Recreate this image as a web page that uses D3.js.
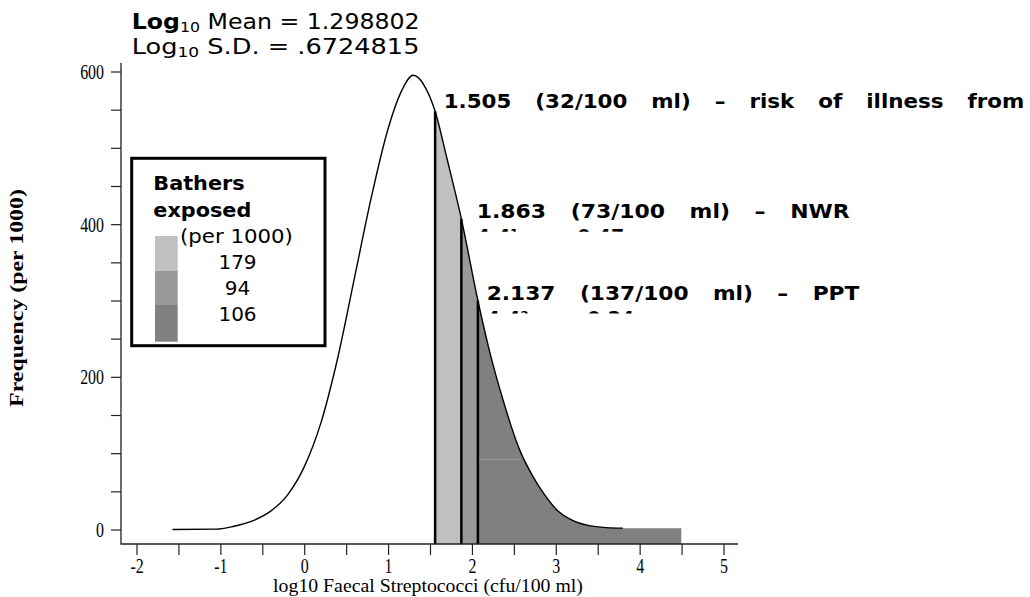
<!DOCTYPE html>
<html>
<head>
<meta charset="utf-8">
<script src="https://cdn.jsdelivr.net/npm/d3@7"></script>
<style>
  body { margin: 0; background: #fff; }
  svg { display: block; }
  .serif { font-family: "Liberation Serif", "Times New Roman", serif; }
  .sans { font-family: "DejaVu Sans", Verdana, sans-serif; }
</style>
</head>
<body>
<svg id="chart" width="1030" height="597"></svg>
<script>
// frequency curve (per 1000), by log10 count
const logValues = [-1.57, -1.05, -0.85, -0.6, -0.4, -0.2, 0, 0.2, 0.4, 0.6, 0.8, 1.0, 1.15, 1.3, 1.45,
  1.561, 1.7, 1.874, 2.071, 2.2, 2.37, 2.57, 2.73, 2.87, 3.01, 3.2, 3.4, 3.6, 3.8, 4.5];
const frequencies = [0, 0.5, 4, 12, 24, 45, 82, 140, 225, 330, 435, 525, 572, 595, 578,
  548, 487, 407, 300, 238, 170, 104, 69, 45, 26, 12, 5, 2.5, 1.8, 1.5];

// where the three vertical lines sit, and where the shaded tail stops
const cutValues = [1.561, 1.874, 2.071];
const tailEnd = 4.5;
const lineEnd = 3.8;

// faint seam inside the dark band
const seam = { from: 2.071, to: 2.585, freq: 92 };

const bandColors = ['#c0c0c0', '#999999', '#808080'];
const bandLabels = ['179', '94', '106'];

const annotations = [
  '1.505 (32/100 ml) – risk of illness from',
  '1.863 (73/100 ml) – NWR',
  '2.137 (137/100 ml) – PPT',
];
const annotationTails = [null, '4.4¹ = 0.47', '4.4² = 0.24'];

const xTicks = [-2, -1.5, -1, -0.5, 0, 0.5, 1, 1.5, 2, 2.5, 3, 3.5, 4, 4.5, 5];
const yTicks = [0, 50, 100, 150, 200, 250, 300, 350, 400, 450, 500, 550, 600];

const meanText = '1.298802';
const sdText = '.6724815';

// axis frame in data units
const X_FRAME = [-2.185, 5.173];
const Y_FRAME = [-19, 611];

const svg = d3.select('#chart');

const x = d3.scaleLinear().domain([-2, 5]).range([136.5, 723.5]);
const y = d3.scaleLinear().domain([0, 600]).range([529.5, 71.5]);

const points = logValues.map((v, i) => ({ v, f: frequencies[i] }));

// stretch a text horizontally so it spans the given width
function fit(sel, tx, ty, width, extra = '') {
  const w = sel.node().getComputedTextLength();
  sel.attr('transform', `translate(${tx},${ty}) ${extra} scale(${width / w},1)`);
}

// shaded tail, one clip per band
const defs = svg.append('defs');
const bandEdges = cutValues.concat([tailEnd]);
bandColors.forEach((c, i) => {
  defs.append('clipPath').attr('id', `band${i}`)
    .append('rect')
    .attr('x', x(bandEdges[i]))
    .attr('width', x(bandEdges[i + 1]) - x(bandEdges[i]))
    .attr('y', 0)
    .attr('height', 597);
});

const tail = points.filter(d => d.v >= cutValues[0]);
const area = d3.area()
  .x(d => x(d.v))
  .y0(y(Y_FRAME[0]))
  .y1(d => y(d.f))
  .curve(d3.curveMonotoneX);

bandColors.forEach((c, i) => {
  svg.append('path')
    .datum(tail)
    .attr('d', area)
    .attr('fill', c)
    .attr('clip-path', `url(#band${i})`);
});

svg.append('line')
  .attr('x1', x(seam.from)).attr('x2', x(seam.to))
  .attr('y1', y(seam.freq)).attr('y2', y(seam.freq))
  .attr('stroke', '#9a9a9a')
  .attr('stroke-width', 1);

// curve
const line = d3.line()
  .x(d => x(d.v))
  .y(d => y(d.f))
  .curve(d3.curveMonotoneX);

svg.append('path')
  .datum(points.filter(d => d.v <= lineEnd))
  .attr('d', line)
  .attr('fill', 'none')
  .attr('stroke', '#000')
  .attr('stroke-width', 1.4);

// vertical cut lines
svg.selectAll('.cut')
  .data(points.filter(d => cutValues.includes(d.v)))
  .enter()
.append('line')
  .attr('class', 'cut')
  .attr('x1', d => x(d.v))
  .attr('x2', d => x(d.v))
  .attr('y1', y(Y_FRAME[0]))
  .attr('y2', d => y(d.f))
  .attr('stroke', '#000')
  .attr('stroke-width', 2.5);

// axes
const xAxis = svg.append('g')
  .attr('transform', `translate(0,${y(Y_FRAME[0])})`)
  .call(d3.axisBottom(x)
    .tickValues(xTicks)
    .tickSize(11)
    .tickSizeOuter(0)
    .tickPadding(3)
    .tickFormat(d => (Number.isInteger(d) ? String(d) : '')));

const yAxis = svg.append('g')
  .attr('transform', `translate(${x(X_FRAME[0])},0)`)
  .call(d3.axisLeft(y)
    .tickValues(yTicks)
    .tickSize(10)
    .tickSizeOuter(0)
    .tickPadding(7)
    .tickFormat(d => (d % 200 === 0 ? String(d) : '')));

const squeeze = 0.74;
[xAxis, yAxis].forEach(g => {
  g.select('.domain').remove();
  g.selectAll('.tick line').attr('stroke', '#222').attr('stroke-width', 1.2);
  g.selectAll('.tick text')
    .attr('fill', '#000')
    .style('font-family', '"Liberation Serif", "Times New Roman", serif')
    .style('font-size', '21.5px');
});
// tall, narrow tick digits as in the picture
yAxis.selectAll('.tick text')
  .attr('x', -17 / squeeze)
  .attr('transform', `scale(${squeeze},1)`);
xAxis.selectAll('.tick text')
  .attr('transform', `scale(${squeeze},1)`);

svg.append('path')
  .attr('d', `M${x(X_FRAME[0])},${y(Y_FRAME[1])}V${y(Y_FRAME[0])}H${x(X_FRAME[1])}`)
  .attr('fill', 'none')
  .attr('stroke', '#222')
  .attr('stroke-width', 1.3);

// axis titles
const xTitle = svg.append('text')
  .attr('class', 'serif')
  .attr('text-anchor', 'middle')
  .style('font-size', '18px')
  .text('log10 Faecal Streptococci (cfu/100 ml)');
fit(xTitle, 428, 592, 310);

const yTitle = svg.append('text')
  .attr('class', 'serif')
  .attr('text-anchor', 'middle')
  .style('font-size', '18px')
  .style('font-weight', 'bold')
  .text('Frequency (per 1000)');
fit(yTitle, 23, 298, 218, 'rotate(-90)');

// mean / sd title
function titleLine(label, bold, value, ty) {
  const t = svg.append('text').attr('class', 'sans').style('font-size', '21px');
  t.append('tspan').style('font-weight', bold ? 'bold' : 'normal').text('Log');
  t.append('tspan').style('font-size', '14px').attr('dy', 3).text('10');
  t.append('tspan').attr('dy', -3).text(` ${label} = ${value}`);
  fit(t, 131.7, ty, 288);
}
titleLine('Mean', true, meanText, 29.3);
titleLine('S.D.', false, sdText, 54);

// annotations next to the cut lines
const annY = [108, 218.3, 300];
const annX = [443.7, 476.7, 486.7];
const annW = [581, 373, 373];
annotations.forEach((a, i) => {
  const t = svg.append('text')
    .attr('class', 'sans')
    .style('font-size', '19px')
    .style('font-weight', 'bold')
    .style('word-spacing', '14.7px')
    .text(a);
  fit(t, annX[i], annY[i], annW[i]);
  if (annotationTails[i]) {
    // the next line is cut off, only the tops of its glyphs remain
    defs.append('clipPath').attr('id', `tail${i}`)
      .append('rect')
      .attr('x', 0).attr('width', 1030)
      .attr('y', annY[i] + 9).attr('height', 4.5);
    const s = svg.append('text')
      .attr('class', 'sans')
      .attr('clip-path', `url(#tail${i})`)
      .style('font-size', '19px')
      .style('font-weight', 'bold')
      .style('word-spacing', '14.7px');
    s.append('tspan').attr('x', annX[i]).attr('y', annY[i] + 25).text(annotationTails[i]);
  }
});

// legend
const legend = svg.append('g');
legend.append('rect')
  .attr('x', 131.7).attr('y', 158.3)
  .attr('width', 193.3).attr('height', 187.4)
  .attr('fill', '#fff')
  .attr('stroke', '#000')
  .attr('stroke-width', 3);

const head1 = legend.append('text').attr('class', 'sans')
  .style('font-size', '19px').style('font-weight', 'bold').text('Bathers');
const head2 = legend.append('text').attr('class', 'sans')
  .style('font-size', '19px').style('font-weight', 'bold').text('exposed');
const k = 98 / head2.node().getComputedTextLength();
head1.attr('transform', `translate(153.3,190) scale(${k},1)`);
head2.attr('transform', `translate(153.3,216.7) scale(${k},1)`);

const per = legend.append('text').attr('class', 'sans')
  .style('font-size', '19px').text('(per 1000)');
fit(per, 180, 243, 113);

const swatchY = [236, 270.7, 305, 341.7];
const labelY = [269, 295, 320.7];
bandColors.forEach((c, i) => {
  legend.append('rect')
    .attr('x', 155).attr('y', swatchY[i])
    .attr('width', 22.7).attr('height', swatchY[i + 1] - swatchY[i])
    .attr('fill', c);
  legend.append('text')
    .attr('class', 'sans')
    .attr('x', 237.5).attr('y', labelY[i])
    .attr('text-anchor', 'middle')
    .style('font-size', '20px')
    .text(bandLabels[i]);
});
</script>
</body>
</html>
